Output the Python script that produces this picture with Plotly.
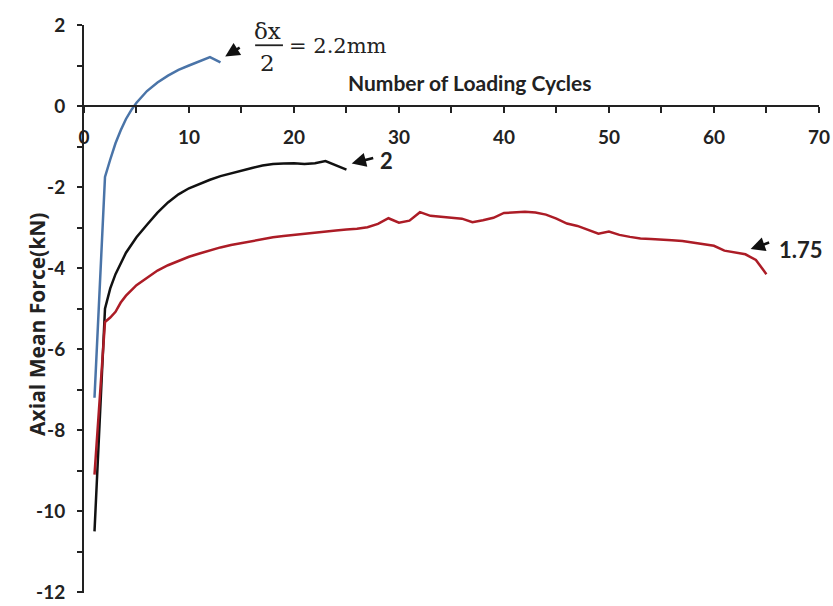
import plotly.graph_objects as go

# Axial mean force vs. number of loading cycles for three displacement amplitudes
cycles_22 = [1, 1.5, 2, 2.5, 3, 3.5, 4, 4.5, 5, 6, 7, 8, 9, 10, 11, 12, 13]
force_22 = [-7.2, -4.4, -1.75, -1.32, -0.92, -0.6, -0.32, -0.1, 0.08, 0.37, 0.58, 0.75, 0.89, 1.0, 1.1, 1.21, 1.08]

cycles_20 = [1, 2, 2.5, 3, 4, 5, 6, 7, 8, 9, 10, 11, 12, 13, 14, 15, 16, 17, 18, 19, 20, 21, 22, 23, 24, 25]
force_20 = [-10.5, -5.0, -4.5, -4.15, -3.62, -3.24, -2.93, -2.63, -2.38, -2.18, -2.03, -1.92, -1.82, -1.73, -1.66,
            -1.59, -1.53, -1.47, -1.43, -1.42, -1.41, -1.43, -1.41, -1.36, -1.46, -1.57]

cycles_175 = [1, 2, 2.5, 3, 3.5, 4, 5, 6, 7, 8, 9, 10, 11, 12, 13, 14, 15, 16, 17, 18, 19, 20, 21, 22, 23, 24,
              25, 26, 27, 28, 29, 30, 31, 32, 33, 34, 35, 36, 37, 38, 39, 40, 41, 42, 43, 44, 45, 46, 47, 48,
              49, 50, 51, 52, 53, 54, 55, 56, 57, 58, 59, 60, 61, 62, 63, 64, 65]
force_175 = [-9.1, -5.33, -5.22, -5.08, -4.85, -4.68, -4.42, -4.23, -4.06, -3.93, -3.82, -3.72, -3.64, -3.56,
             -3.49, -3.43, -3.38, -3.33, -3.28, -3.24, -3.21, -3.18, -3.15, -3.12, -3.09, -3.07, -3.05, -3.03,
             -2.99, -2.91, -2.77, -2.88, -2.83, -2.62, -2.71, -2.74, -2.76, -2.78, -2.87, -2.82, -2.76, -2.64,
             -2.63, -2.61, -2.63, -2.68, -2.78, -2.9, -2.96, -3.06, -3.15, -3.1, -3.18, -3.23, -3.27, -3.28,
             -3.29, -3.31, -3.33, -3.37, -3.41, -3.45, -3.57, -3.61, -3.66, -3.8, -4.15]

x_ticks = [0, 5, 10, 15, 20, 25, 30, 35, 40, 45, 50, 55, 60, 65, 70]
x_tick_text = ["0", "", "10", "", "20", "", "30", "", "40", "", "50", "", "60", "", "70"]
y_ticks = [-12, -11, -10, -9, -8, -7, -6, -5, -4, -3, -2, -1, 0, 1, 2]
y_tick_text = ["-12", "", "-10", "", "-8", "", "-6", "", "-4", "", "-2", "", "0", "", "2"]

X_RANGE = [0, 70.01]
Y_RANGE = [-12.02, 2.0]

fig = go.Figure()
fig.add_trace(go.Scatter(x=cycles_22, y=force_22, mode="lines",
                         line=dict(color="#4A74A8", width=2.5), name="2.2"))
fig.add_trace(go.Scatter(x=cycles_20, y=force_20, mode="lines",
                         line=dict(color="#111111", width=2.5), name="2"))
fig.add_trace(go.Scatter(x=cycles_175, y=force_175, mode="lines",
                         line=dict(color="#AC1C26", width=2.5), name="1.75"))

tick_font = dict(family="Lato", size=19, color="#222222", weight="bold")

fig.update_layout(
    width=833, height=606,
    margin=dict(l=84, r=14, t=25, b=13),
    paper_bgcolor="white", plot_bgcolor="white",
    showlegend=False,
    xaxis=dict(
        range=X_RANGE, anchor="free", automargin=False,
        position=(0 - Y_RANGE[0]) / (Y_RANGE[1] - Y_RANGE[0]),
        tickmode="array", tickvals=x_ticks, ticktext=x_tick_text,
        ticks="outside", ticklen=6, tickwidth=1.5, tickcolor="#222222",
        ticklabelstandoff=8,
        showline=True, linecolor="#222222", linewidth=2,
        showgrid=False, zeroline=False, tickfont=tick_font,
    ),
    yaxis=dict(
        range=Y_RANGE, automargin=False,
        tickmode="array", tickvals=y_ticks, ticktext=y_tick_text,
        ticks="outside", ticklen=5, tickwidth=1.5, tickcolor="#222222",
        ticklabelstandoff=8, ticklabeloverflow="allow",
        showline=True, linecolor="#222222", linewidth=2,
        showgrid=False, zeroline=False, tickfont=tick_font,
    ),
)

# Axis titles
fig.add_annotation(text="Number of Loading Cycles", x=36.8, y=0.59, xref="x", yref="y",
                   showarrow=False, font=dict(family="Lato", size=21, color="#222222", weight="bold"))
fig.add_annotation(text="Axial Mean Force(kN)", x=0, xref="paper", xshift=-63,
                   y=0.472, yref="paper", textangle=-90, showarrow=False,
                   font=dict(family="Open Sans", size=21, color="#222222", weight="bold"))

# Amplitude label as a fraction: δx over 2
serif = dict(family="DejaVu Serif", size=21, color="#222222")
fig.add_annotation(text="δx", x=17.45, y=1.86, xref="x", yref="y", showarrow=False,
                   font=dict(family="DejaVu Serif", size=23, color="#222222"))
fig.add_annotation(text="2", x=17.5, y=1.05, xref="x", yref="y", showarrow=False,
                   font=dict(family="DejaVu Serif", size=23, color="#222222"))
fig.add_shape(type="line", x0=16.3, x1=18.95, y0=1.5, y1=1.5, xref="x", yref="y",
              line=dict(color="#222222", width=1.8))
fig.add_annotation(text="= 2.2mm", x=19.3, y=1.48, xref="x", yref="y", xanchor="left",
                   showarrow=False, font=serif)

# Arrows pointing at the end of each curve
arrow_style = dict(showarrow=True, arrowhead=2, arrowsize=1.1, arrowwidth=2.6, arrowcolor="#111111",
                   axref="pixel", ayref="pixel", xref="x", yref="y", text="")
fig.add_annotation(x=13.45, y=1.22, ax=16, ay=-10, **arrow_style)
fig.add_annotation(x=25.5, y=-1.42, ax=23, ay=-6, **arrow_style)
fig.add_annotation(x=63.5, y=-3.53, ax=20, ay=-7, **arrow_style)

label_font = dict(family="Lato", size=22, color="#222222", weight="bold")
fig.add_annotation(text="2", x=28.8, y=-1.35, xref="x", yref="y", showarrow=False, font=label_font)
fig.add_annotation(text="1.75", x=68.3, y=-3.53, xref="x", yref="y", showarrow=False, font=label_font)

fig.write_html("out.html")
